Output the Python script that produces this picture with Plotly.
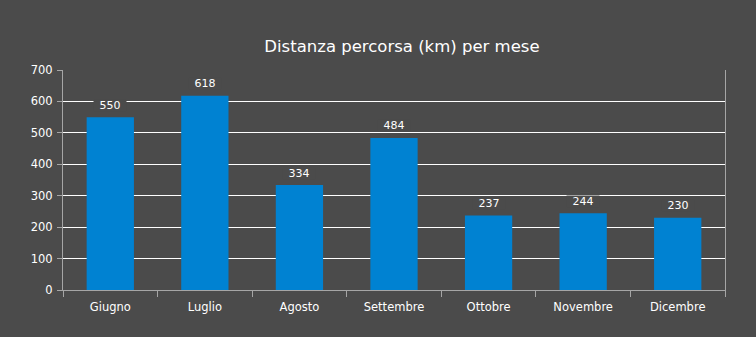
import plotly.graph_objects as go

# Monthly distance travelled (km)
months = ["Giugno", "Luglio", "Agosto", "Settembre", "Ottobre", "Novembre", "Dicembre"]
km = [550, 618, 334, 484, 237, 244, 230]
y_ticks = [0, 100, 200, 300, 400, 500, 600, 700]

BG = "#4b4b4b"
BAR = "#0082d2"
AXIS = "#a6a6a6"
FONT = "DejaVu Sans"

fig = go.Figure(
    go.Bar(x=months, y=km, marker=dict(color=BAR, line=dict(width=0)),
           hoverinfo="x+y")
)

# value labels with a background box that hides the gridline behind them
for m, v in zip(months, km):
    fig.add_annotation(
        x=m, y=v, xref="x", yref="y", text=str(v), showarrow=False,
        yanchor="middle", yshift=12, width=32, height=11,
        bgcolor=BG, borderpad=0,
        font=dict(family=FONT, size=11, color="white"),
    )

fig.update_layout(
    width=756, height=337,
    paper_bgcolor=BG, plot_bgcolor=BG,
    margin=dict(l=63, r=31, t=70, b=47),
    bargap=0.5,
    showlegend=False,
    title=dict(text="Distanza percorsa (km) per mese", xref="paper", x=0.512,
               xanchor="center", y=1 - 46 / 337, yanchor="middle",
               font=dict(family=FONT, size=16.5, color="white")),
    font=dict(family=FONT, color="white"),
)

fig.update_xaxes(
    type="category", showgrid=False, showline=True, linecolor=AXIS, linewidth=1,
    ticks="outside", tickson="boundaries", ticklen=6, tickcolor=AXIS,
    ticklabelstandoff=6,
    tickfont=dict(family=FONT, size=11.5, color="white"),
)
fig.update_yaxes(
    range=[0, 700], tickvals=y_ticks, showgrid=True, gridcolor="white", gridwidth=1,
    zeroline=False, showline=True, linecolor=AXIS, linewidth=1, mirror=True,
    ticks="outside", ticklen=5, tickcolor=AXIS, ticklabelstandoff=2,
    tickfont=dict(family=FONT, size=11.5, color="white"),
)

fig.write_html("out.html")
